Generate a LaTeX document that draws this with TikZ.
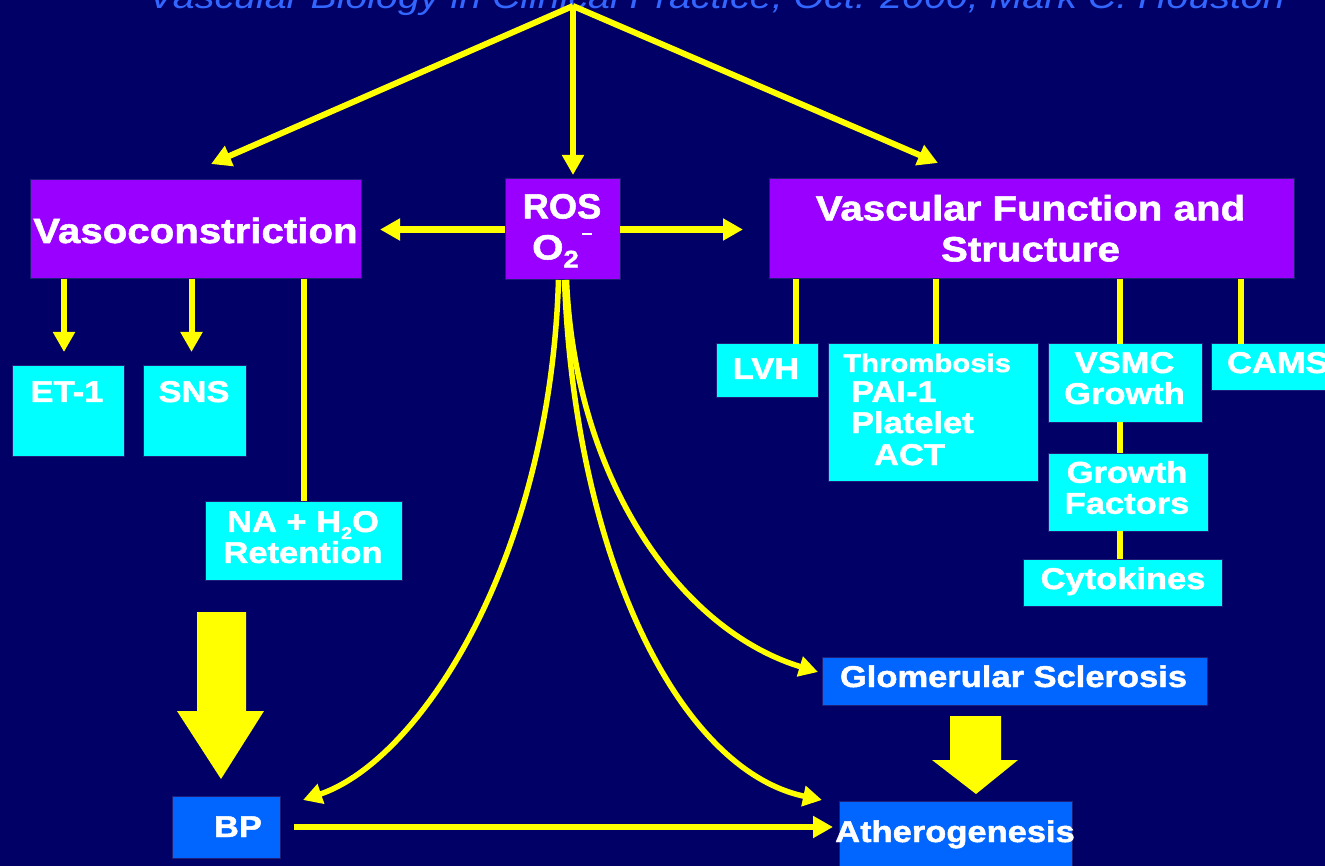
\documentclass[tikz,border=0pt]{standalone}
\usepackage{fontspec}
\setmainfont{Liberation Sans}[FakeStretch=1.15, BoldFeatures={FakeBold=1.6}]
\usetikzlibrary{arrows.meta,calc}
\definecolor{vbg}{RGB}{0,0,102}
\definecolor{vpurple}{RGB}{153,0,255}
\definecolor{vcyan}{RGB}{0,255,255}
\definecolor{vblue}{RGB}{0,102,255}
\definecolor{vyellow}{RGB}{255,255,0}
\definecolor{vtitle}{RGB}{51,102,255}
\definecolor{vedge}{RGB}{30,30,120}
\tikzset{
  box/.style={draw=vedge, line width=1pt, inner sep=0pt, outer sep=0pt, anchor=north west},
  pbox/.style={box, fill=vpurple},
  cbox/.style={box, fill=vcyan},
  bbox/.style={box, fill=vblue},
  bigtxt/.style={text=white, inner sep=0pt, outer sep=0pt, font=\bfseries\fontsize{35}{41}\selectfont, align=center},
  smalltxt/.style={text=white, inner sep=0pt, outer sep=0pt, font=\bfseries\fontsize{30}{31}\selectfont, align=center},
  link/.style={draw=vyellow, line width=6pt},
  arr/.style={link, -{Triangle[length=20pt,width=21pt]}},
  curvearr/.style={draw=vyellow, line width=5.5pt, -{Triangle[length=19pt,width=20pt]}},
  blockarrow/.style={fill=vyellow},
}
\begin{document}
\begin{tikzpicture}[x=1pt,y=-1pt]
\useasboundingbox (0,0) rectangle (1325,866);
\fill[vbg] (0,0) rectangle (1325,866);

% title (cut off at top)
\node[anchor=base west, inner sep=0pt, text=vtitle, font=\itshape\fontsize{34.2}{40}\selectfont] (title) at (148,9) {Vascular Biology in Clinical Practice, Oct. 2000, Mark C. Houston};

% boxes
\node[pbox, minimum width=331pt, minimum height=99pt] (vaso) at (30,180) {};
\node[pbox, minimum width=115pt, minimum height=101pt] (ros) at (505,179) {};
\node[pbox, minimum width=525pt, minimum height=100pt] (vfs) at (769,179) {};
\node[cbox, minimum width=112pt, minimum height=90pt] (et1) at (12,366) {};
\node[cbox, minimum width=103pt, minimum height=90pt] (sns) at (143,366) {};
\node[cbox, minimum width=197pt, minimum height=79pt] (na) at (205,501) {};
\node[cbox, minimum width=102pt, minimum height=53pt] (lvh) at (716,344) {};
\node[cbox, minimum width=210pt, minimum height=137pt] (thr) at (828,344) {};
\node[cbox, minimum width=154pt, minimum height=78pt] (vsmc) at (1048,344) {};
\node[cbox, minimum width=160pt, minimum height=78pt] (gf) at (1048,453) {};
\node[cbox, minimum width=199pt, minimum height=47pt] (cyt) at (1023,559) {};
\node[cbox, minimum width=130pt, minimum height=47pt] (cams) at (1211,344) {};
\node[bbox, minimum width=385pt, minimum height=48pt] (glom) at (822,657) {};
\node[bbox, minimum width=108pt, minimum height=62pt] (bp) at (172,796) {};
\node[bbox, minimum width=233pt, minimum height=80pt] (ath) at (839,801) {};

% texts
\node[bigtxt, anchor=base] (vasoT) at (195.5,243) {Vasoconstriction};
\node[bigtxt, anchor=north] (rosT) at (562,194) {\scalebox{0.9}[1]{ROS}\\O\raisebox{-8pt}{\fontsize{24}{24}\selectfont 2}\kern3pt\rule[24pt]{10pt}{2pt}};
\node[bigtxt, anchor=north] (vfsT) at (1030.5,195) {Vascular Function and\\Structure};
\node[smalltxt, anchor=base] (et1T) at (67,402) {ET-1};
\node[smalltxt, anchor=base] (snsT) at (194,402) {SNS};
\node[smalltxt, anchor=north] (naT) at (303,511) {NA + H\raisebox{-7pt}{\fontsize{17}{17}\selectfont 2}O\\Retention};
\node[smalltxt, anchor=base] (lvhT) at (766,379) {LVH};
\node[text=white, inner sep=0pt, font=\bfseries\fontsize{25.5}{26}\selectfont, anchor=base west] (thr1) at (843,372) {Thrombosis};
\node[smalltxt, anchor=base west] (thr2) at (851,402) {PAI-1};
\node[smalltxt, anchor=base west] (thr3) at (851,433) {Platelet};
\node[smalltxt, anchor=base west] (thr4) at (874,465) {ACT};
\node[smalltxt, anchor=north] (vsmcT) at (1124.5,352) {VSMC\\Growth};
\node[smalltxt, anchor=north] (gfT) at (1127,461) {Growth\\Factors};
\node[smalltxt, anchor=base] (cytT) at (1123,589) {Cytokines};
\node[smalltxt, anchor=base west] (camsT) at (1227,373) {CAMS};
\node[smalltxt, anchor=base] (glomT) at (1013.5,687) {Glomerular Sclerosis};
\node[smalltxt, anchor=base] (bpT) at (238,837) {BP};
\node[smalltxt, anchor=base] (athT) at (955,842) {Atherogenesis};

% top fan of arrows
\coordinate (apex) at (573,6);
\coordinate (tipL) at (211,164);
\coordinate (tipR) at (938,163);
\draw[arr] (apex) -- (tipL);
\draw[arr] (apex) -- (tipR);
\draw[arr, shorten >=4pt] (apex) -- (apex |- ros.north);

% ROS sideways
\draw[arr, line width=6.5pt, shorten >=19pt] (ros.west) -- (vaso.east |- ros.west);
\draw[arr, line width=6.5pt, shorten >=26pt] (ros.east) -- (vfs.west |- ros.east);

% Vasoconstriction children
\draw[arr, shorten >=14pt] ([xshift=-4pt]vaso.south -| et1.north) -- ([xshift=-4pt]et1.north);
\draw[arr, shorten >=14pt] ([xshift=-3pt]vaso.south -| sns.north) -- ([xshift=-3pt]sns.north);
\draw[link] (vaso.south -| na.north) -- (na.north);

% Vascular function children
\draw[link] ([xshift=27pt]vfs.south west) -- ([xshift=27pt]vfs.south west |- lvh.north);
\draw[link] ([xshift=167pt]vfs.south west) -- ([xshift=167pt]vfs.south west |- thr.north);
\draw[link] ([xshift=351pt]vfs.south west) -- ([xshift=351pt]vfs.south west |- vsmc.north);
\draw[link] ([xshift=472pt]vfs.south west) -- ([xshift=472pt]vfs.south west |- cams.north);
\draw[link] ([xshift=-5pt]vsmc.south) -- ([xshift=-5pt]vsmc.south |- gf.north);
\draw[link] ([xshift=-8pt]gf.south) -- ([xshift=-8pt]gf.south |- cyt.north);

% curves from ROS
\coordinate (bpTip) at (303,800);
\coordinate (athTip) at (822,800);
\coordinate (glTip) at (818,672);
\draw[curvearr] ([xshift=-4pt]ros.south) .. controls (550,560) and (420,760) .. (bpTip);
\draw[curvearr] ([xshift=2pt]ros.south) .. controls (575,560) and (680,770) .. (athTip);
\draw[curvearr] ([xshift=4pt]ros.south) .. controls (575,480) and (680,630) .. (glTip);

% BP -> Atherogenesis
\draw[arr, shorten <=14pt, shorten >=6pt] (bp.east) -- (ath.west |- bp.east);

% block arrows
\fill[blockarrow] (197,612) -- (246,612) -- (246,711) -- (264,711) -- (221,779) -- (177,711) -- (197,711) -- cycle;
\fill[blockarrow] (950,716) -- (1001,716) -- (1001,760) -- (1018,760) -- (976,794) -- (932,760) -- (950,760) -- cycle;
\end{tikzpicture}
\end{document}
